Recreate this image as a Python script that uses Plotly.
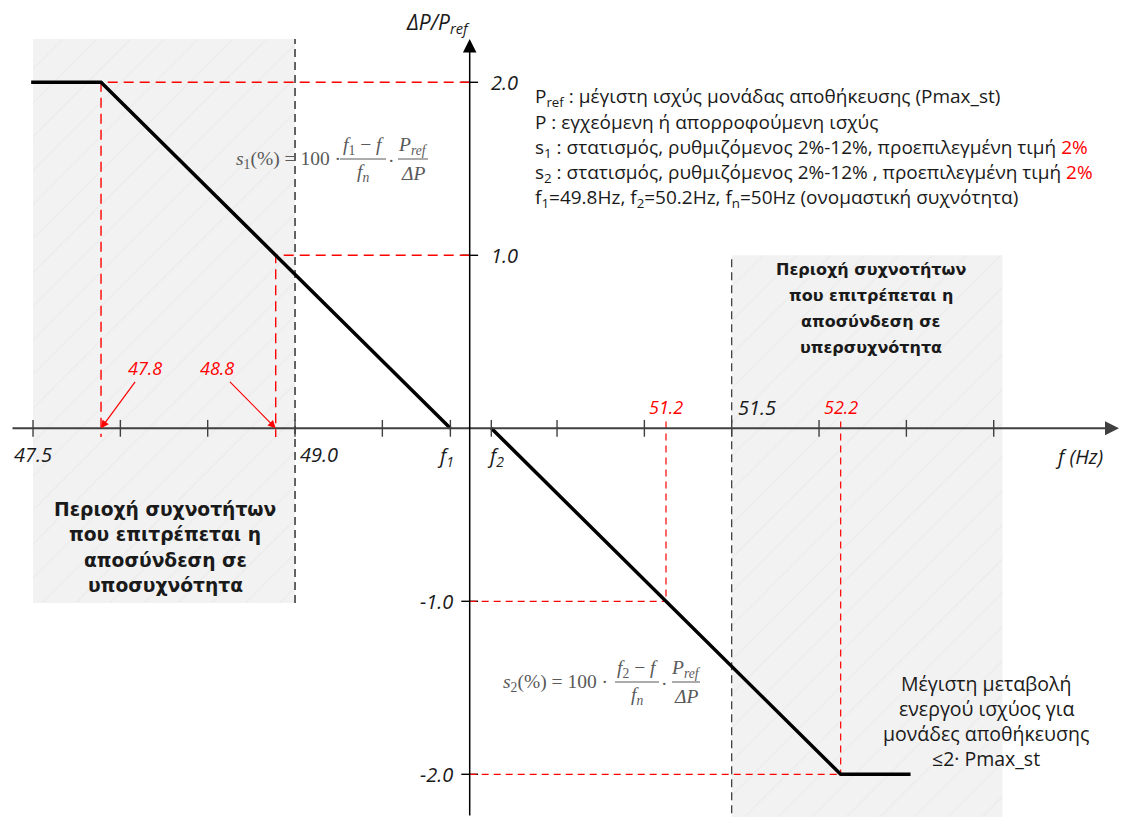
import plotly.graph_objects as go

# ---------------- data ----------------
f_ticks_left = [47.5, 48.0, 48.5, 49.0, 49.5]
f_ticks_right = [50.5, 51.0, 51.5, 52.0, 52.5, 53.0]
f1, f2, fn = 49.8, 50.2, 50.0
p_ticks = [2.0, 1.0, -1.0, -2.0]
p_tick_labels = ["2.0", "1.0", "-1.0", "-2.0"]

droop_low_f = [47.4, 47.8, 49.8]
droop_low_p = [2.0, 2.0, 0.0]
droop_high_f = [50.2, 52.2, 52.6]
droop_high_p = [0.0, -2.0, -2.0]

ref_low_f = [47.8, 48.8]
ref_low_p = [2.0, 1.0]
ref_high_f = [51.2, 52.2]
ref_high_p = [-1.0, -2.0]

under_f = [47.5, 49.0]
under_p = [-1.01, 2.25]
over_f = [51.5, 53.05]
over_p = [-2.3, 1.0]

# ---------------- layout constants ----------------
W, H = 1121, 817
PX_HZ = 174.67
FN_PX = 469.7
P0_PX = 428.3
PX_P = 173.0
LEFT_SHIFT = 15.6 / PX_HZ
RIGHT_SHIFT = -13.3 / PX_HZ

gx = [fn - FN_PX / PX_HZ, fn + (W - FN_PX) / PX_HZ]
x2r = [v - LEFT_SHIFT for v in gx]
x3r = [v - RIGHT_SHIFT for v in gx]
yr = [-(H - P0_PX) / PX_P, P0_PX / PX_P]


def px(x):
    return x / W


def py(y):
    return 1 - y / H


def gpx(x):  # pixel -> grid frequency
    return fn + (x - FN_PX) / PX_HZ


def gpy(y):  # pixel -> p value
    return (P0_PX - y) / PX_P


RED = "#ff0000"
DARK = "#404040"
TXT = "#1a1a1a"
NUMFONT = "Open Sans"
BODY = "Open Sans"
BOLD = "DejaVu Sans"
SERIF = "Liberation Serif"

fig = go.Figure()

pattern = dict(shape="/", bgcolor="#f2f2f2", fgcolor="#ebebeb", size=24, solidity=0.05, fillmode="replace")
for fr, pr in [(under_f, under_p), (over_f, over_p)]:
    fig.add_trace(go.Scatter(
        x=[fr[0], fr[1], fr[1], fr[0], fr[0]], y=[pr[0], pr[0], pr[1], pr[1], pr[0]],
        fill="toself", mode="none", fillcolor="#f2f2f2", fillpattern=pattern,
        hoverinfo="skip", showlegend=False))

# boundary dashed lines
fig.add_trace(go.Scatter(x=[under_f[1]] * 2, y=under_p, mode="lines",
                         line=dict(color=DARK, width=1.6, dash="8px,5px"), showlegend=False))
fig.add_trace(go.Scatter(x=[over_f[0]] * 2, y=over_p, mode="lines",
                         line=dict(color="#222222", width=1.1, dash="8px,5px"), showlegend=False))

# red reference lines
lx, ly = [], []
for f, p in zip(ref_low_f, ref_low_p):
    lx += [fn - LEFT_SHIFT, f, f, None]
    ly += [p, p, -0.05, None]
fig.add_trace(go.Scatter(x=lx, y=ly, xaxis="x2", mode="lines",
                         line=dict(color=RED, width=1.4, dash="10px,6px"), showlegend=False))
rx, ry = [], []
for f, p in zip(ref_high_f, ref_high_p):
    rx += [fn - RIGHT_SHIFT, f, None, f, f, None]
    ry += [p, p, None, 0.04, p, None]
fig.add_trace(go.Scatter(x=rx, y=ry, xaxis="x3", mode="lines",
                         line=dict(color=RED, width=1.2, dash="7px,5px"), showlegend=False))

# droop characteristic
fig.add_trace(go.Scatter(x=droop_low_f, y=droop_low_p, xaxis="x2", mode="lines",
                         line=dict(color="black", width=3.5), showlegend=False))
fig.add_trace(go.Scatter(x=droop_high_f, y=droop_high_p, xaxis="x3", mode="lines",
                         line=dict(color="black", width=3.5), showlegend=False))

# tick marks
tick_marker = dict(symbol="line-ns", size=12, line=dict(width=1.4, color=DARK))
fig.add_trace(go.Scatter(x=f_ticks_left + f_ticks_right, y=[0] * 11, mode="markers",
                         marker=tick_marker, showlegend=False))
fig.add_trace(go.Scatter(x=[f1], y=[0], xaxis="x2", mode="markers", marker=tick_marker, showlegend=False))
fig.add_trace(go.Scatter(x=[f2], y=[0], xaxis="x3", mode="markers", marker=tick_marker, showlegend=False))
fig.add_trace(go.Scatter(x=[fn] * len(p_ticks), y=p_ticks, mode="markers",
                         marker=dict(symbol="line-ew", size=12, line=dict(width=1.4, color="black")),
                         showlegend=False))

ann = []
# axes with arrows
ann.append(dict(x=gpx(1119), y=0, ax=gpx(11), ay=0, xref="x", yref="y", axref="x", ayref="y",
                text="", showarrow=True, arrowhead=2, arrowsize=1.4, arrowwidth=2, arrowcolor=DARK))
ann.append(dict(x=fn, y=gpy(39), ax=fn, ay=gpy(817), xref="x", yref="y", axref="x", ayref="y",
                text="", showarrow=True, arrowhead=2, arrowsize=1.8, arrowwidth=1.5, arrowcolor="black"))

NF = dict(family=NUMFONT, size=20, color=TXT)
# axis titles
ann.append(dict(x=px(472), y=py(23), xref="paper", yref="paper", xanchor="right", yanchor="middle",
                text="<i>ΔP/P<sub>ref</sub></i>", showarrow=False, font=dict(family=NUMFONT, size=21, color=TXT)))
ann.append(dict(x=px(1105), y=py(456), xref="paper", yref="paper", xanchor="right", yanchor="middle",
                text="<i>f (Hz)</i>", showarrow=False, font=NF))
# y tick labels
for p, lab in zip(p_ticks, p_tick_labels):
    if p > 0:
        ann.append(dict(x=fn, y=p, xref="x", yref="y", xanchor="left", yanchor="middle", xshift=19,
                        text=f"<i>{lab}</i>", showarrow=False, font=NF))
    else:
        ann.append(dict(x=fn, y=p, xref="x", yref="y", xanchor="right", yanchor="middle", xshift=-15,
                        text=f"<i>{lab}</i>", showarrow=False, font=NF))
# x tick labels
ann.append(dict(x=f_ticks_left[0], y=0, xref="x", yref="y", yshift=-26, text="<i>47.5</i>",
                showarrow=False, font=NF))
ann.append(dict(x=under_f[1], y=0, xref="x", yref="y", xanchor="left", xshift=3, yshift=-26,
                text="<i>49.0</i>", showarrow=False, font=NF))
ann.append(dict(x=over_f[0], y=0, xref="x", yref="y", xanchor="left", xshift=4, yshift=21,
                text="<i>51.5</i>", showarrow=False, font=NF))
ann.append(dict(x=f1, y=0, xref="x2", yref="y", xshift=-5, yshift=-28,
                text="<i>f<sub>1</sub></i>", showarrow=False, font=NF))
ann.append(dict(x=f2, y=0, xref="x3", yref="y", xshift=4, yshift=-28,
                text="<i>f<sub>2</sub></i>", showarrow=False, font=NF))
RF = dict(family=NUMFONT, size=18, color=RED)
for f in ref_high_f:
    ann.append(dict(x=f, y=0, xref="x3", yref="y", yshift=21, text=f"<i>{f}</i>",
                    showarrow=False, font=RF))
# red arrows with labels
ann.append(dict(x=ref_low_f[0], y=0, xref="x2", yref="y", ax=44, ay=-60, text=f"<i>{ref_low_f[0]}</i>",
                showarrow=True, arrowhead=2, arrowsize=1.3, arrowwidth=1.2, arrowcolor=RED, font=RF))
ann.append(dict(x=ref_low_f[1], y=0, xref="x2", yref="y", ax=-59, ay=-60, text=f"<i>{ref_low_f[1]}</i>",
                showarrow=True, arrowhead=2, arrowsize=1.3, arrowwidth=1.2, arrowcolor=RED, font=RF))

# legend-like text block
BF = dict(family=BODY, size=19, color=TXT)
lines = [
    "P<sub>ref</sub> : μέγιστη ισχύς μονάδας αποθήκευσης (Pmax_st)",
    "P : εγχεόμενη ή απορροφούμενη ισχύς",
    "s<sub>1</sub> : στατισμός, ρυθμιζόμενος 2%-12%, προεπιλεγμένη τιμή <span style='color:#ff0000'>2%</span>",
    "s<sub>2</sub> : στατισμός, ρυθμιζόμενος 2%-12% , προεπιλεγμένη τιμή <span style='color:#ff0000'>2%</span>",
    f"f<sub>1</sub>={f1}Hz, f<sub>2</sub>={f2}Hz, f<sub>n</sub>={fn:g}Hz (ονομαστική συχνότητα)",
]
for i, t in enumerate(lines):
    ann.append(dict(x=px(533), y=py(97 + 25.3 * i), xref="paper", yref="paper", xanchor="left",
                    yanchor="middle", text=t, showarrow=False, font=BF))

# region texts
RB = dict(family=BOLD, size=18.7, color=TXT, weight="bold")
for i, t in enumerate(["Περιοχή συχνοτήτων", "που επιτρέπεται η", "αποσύνδεση σε", "υποσυχνότητα"]):
    ann.append(dict(x=px(165), y=py(509 + 25.5 * i), xref="paper", yref="paper", xanchor="center",
                    yanchor="middle", text=f"<b>{t}</b>", showarrow=False, font=RB))
RB2 = dict(family=BOLD, size=16, color=TXT, weight="bold")
for i, t in enumerate(["Περιοχή συχνοτήτων", "που επιτρέπεται η", "αποσύνδεση σε", "υπερσυχνότητα"]):
    ann.append(dict(x=px(871), y=py(270 + 25.7 * i), xref="paper", yref="paper", xanchor="center",
                    yanchor="middle", text=f"<b>{t}</b>", showarrow=False, font=RB2))
BR = dict(family=BODY, size=19.5, color=TXT)
for i, t in enumerate(["Μέγιστη μεταβολή", "ενεργού ισχύος για", "μονάδες αποθήκευσης", "≤2· Pmax_st"]):
    ann.append(dict(x=px(986), y=py(683 + 25 * i), xref="paper", yref="paper", xanchor="center",
                    yanchor="middle", text=t, showarrow=False, font=BR))

# formulas
GF = dict(family=SERIF, size=19.5, color="#595959")
shapes = []


def formula(idx, xl_end, ymid, n1c, n2c, half1, half2):
    ann.append(dict(x=px(xl_end), y=py(ymid), xref="paper", yref="paper", xanchor="right", yanchor="middle",
                    text=f"<i>s</i><sub>{idx}</sub>(%) = 100 ·", showarrow=False, font=GF))
    ann.append(dict(x=px(n1c), y=py(ymid - 14), xref="paper", yref="paper", xanchor="center",
                    yanchor="middle", text=f"<i>f</i><sub>{idx}</sub> − <i>f</i>", showarrow=False, font=GF))
    ann.append(dict(x=px(n1c), y=py(ymid + 13), xref="paper", yref="paper", xanchor="center",
                    yanchor="middle", text="<i>f<sub>n</sub></i>", showarrow=False, font=GF))
    ann.append(dict(x=px((n1c + n2c) / 2 + 3), y=py(ymid), xref="paper", yref="paper", xanchor="center",
                    yanchor="middle", text="·", showarrow=False, font=GF))
    ann.append(dict(x=px(n2c), y=py(ymid - 14), xref="paper", yref="paper", xanchor="center",
                    yanchor="middle", text="<i>P<sub>ref</sub></i>", showarrow=False, font=GF))
    ann.append(dict(x=px(n2c), y=py(ymid + 13), xref="paper", yref="paper", xanchor="center",
                    yanchor="middle", text="<i>ΔP</i>", showarrow=False, font=GF))
    for c, h in [(n1c, half1), (n2c, half2)]:
        shapes.append(dict(type="line", xref="paper", yref="paper", x0=px(c - h), x1=px(c + h),
                           y0=py(ymid - 1), y1=py(ymid - 1), line=dict(color="#595959", width=1)))


formula(1, 343, 160, 363, 413, 23, 15)
formula(2, 610, 683, 637, 686, 22, 14)

fig.update_layout(
    width=W, height=H, margin=dict(l=0, r=0, t=0, b=0),
    plot_bgcolor="white", paper_bgcolor="white",
    xaxis=dict(range=gx, visible=False, fixedrange=True),
    xaxis2=dict(range=x2r, visible=False, overlaying="x", anchor="y"),
    xaxis3=dict(range=x3r, visible=False, overlaying="x", anchor="y"),
    yaxis=dict(range=yr, visible=False),
    annotations=ann, shapes=shapes, showlegend=False,
)
fig.write_html("out.html", config={"displayModeBar": False},
               post_script="document.body.style.margin='0';document.body.style.overflow='hidden';")
